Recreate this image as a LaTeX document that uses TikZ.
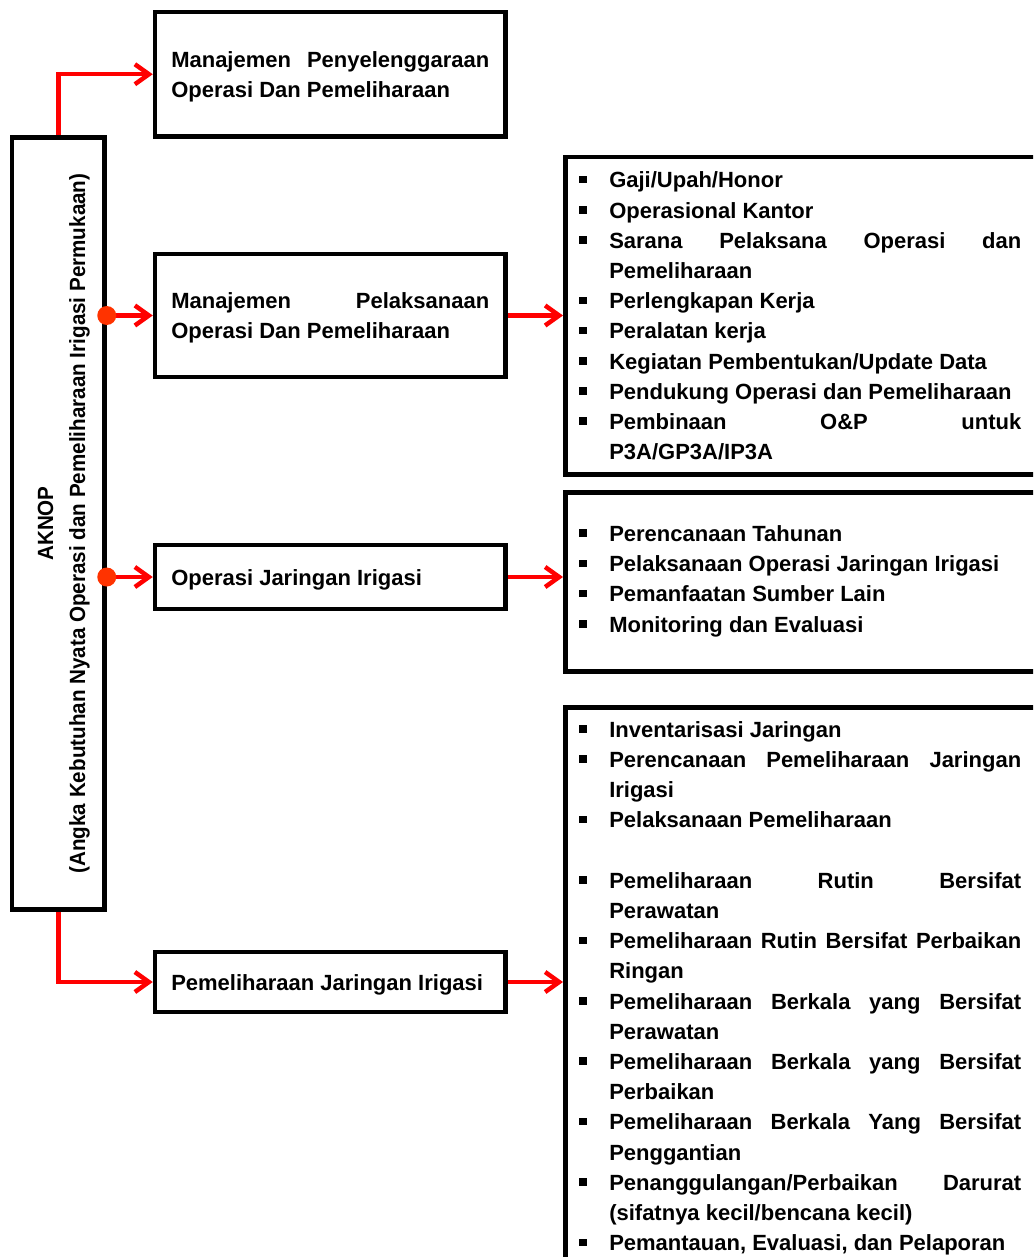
\documentclass[tikz,border=0pt]{standalone}
\usepackage{fontspec}
\setmainfont{Liberation Sans}
\usepackage{graphicx}
\usetikzlibrary{arrows.meta}
\definecolor{dotred}{RGB}{255,51,0}
\hyphenpenalty=10000
\exhyphenpenalty=10000
\tolerance=10000
\hbadness=10000
\newcommand{\mystrut}{\rule[-7pt]{0pt}{30pt}}
\newcommand{\bfnt}{\fontsize{22}{30.2}\selectfont\bfseries}
\newcommand{\itm}[1]{\hangindent=30pt\hangafter=1\noindent\mystrut\makebox[30pt][l]{\rule[4.5pt]{7.5pt}{7.5pt}}#1\mystrut\par}
\newcommand{\blankln}{\noindent\mystrut\par}
\begin{document}
\begin{tikzpicture}[x=1pt,y=-1pt,
  box/.style={draw=black, line width=4.5pt, rectangle, inner sep=0pt},
  lbox/.style={box, text width=318pt, inner xsep=16.25pt, inner ysep=0pt, align=justify, font=\bfnt},
  rbox/.style={box, text width=480pt, inner xsep=14pt, inner ysep=0pt, align=justify, font=\bfnt, anchor=north west},
  conn/.style={draw=red, line width=4.5pt, -{Straight Barb[length=14pt,width=20pt]}},
  dot/.style={fill=dotred}]
\useasboundingbox (0,0) rectangle (1033,1257);
\clip (0,0) rectangle (1033,1257);
\fill[white] (0,0) rectangle (1033,1257);

% left vertical box
\node[box, minimum width=92.5pt, minimum height=772pt] (ak) at (58.25,523.5) {};
\node[rotate=90, inner sep=0pt, font={\fontsize{22}{32}\selectfont\bfseries}] (akt) at (62.6,523.5)
  {\scalebox{0.937}[1]{\begin{tabular}{@{}c@{}}AKNOP\\(Angka Kebutuhan Nyata Operasi dan Pemeliharaan Irigasi Permukaan)\end{tabular}}};

% middle boxes
\node[lbox, minimum height=124.5pt] (b1) at (330.25,74.25)
  {\rightskip=6pt\relax\mystrut Manajemen Penyelenggaraan\linebreak Operasi Dan Pemeliharaan\mystrut};
\node[lbox, minimum height=123pt] (b2) at (330.25,315.5)
  {\rightskip=6pt\relax\mystrut Manajemen Pelaksanaan\linebreak Operasi Dan Pemeliharaan\mystrut};
\node[lbox, minimum height=64pt] (b3) at (330.25,577)
  {\rightskip=6pt\relax\mystrut Operasi Jaringan Irigasi\mystrut};
\node[lbox, minimum height=60pt] (b4) at (330.25,982)
  {\rightskip=6pt\relax\mystrut Pemeliharaan Jaringan Irigasi\mystrut};

% right boxes
\node[rbox, minimum height=317pt] (r1) at (563,155)
  {\rightskip=38pt\relax%
   \itm{Gaji/Upah/Honor}
   \itm{Operasional Kantor}
   \itm{Sarana Pelaksana Operasi dan\linebreak Pemeliharaan}
   \itm{Perlengkapan Kerja}
   \itm{Peralatan kerja}
   \itm{Kegiatan Pembentukan/Update Data}
   \itm{Pendukung Operasi dan Pemeliharaan}
   \itm{Pembinaan O\&P untuk\linebreak P3A/GP3A/IP3A}};
\node[rbox, minimum height=179pt] (r2) at (563,490)
  {\rightskip=38pt\relax%
   \itm{Perencanaan Tahunan}
   \itm{Pelaksanaan Operasi Jaringan Irigasi}
   \itm{Pemanfaatan Sumber Lain}
   \itm{Monitoring dan Evaluasi\rule[-13pt]{0pt}{1pt}}};
\node[rbox, minimum height=557.4pt] (r3) at (563,705)
  {\rightskip=38pt\relax%
   \itm{Inventarisasi Jaringan}
   \itm{Perencanaan Pemeliharaan Jaringan\linebreak Irigasi}
   \itm{Pelaksanaan Pemeliharaan}
   \blankln
   \itm{Pemeliharaan Rutin Bersifat\linebreak Perawatan}
   \itm{Pemeliharaan Rutin Bersifat Perbaikan\linebreak Ringan}
   \itm{Pemeliharaan Berkala yang Bersifat\linebreak Perawatan}
   \itm{Pemeliharaan Berkala yang Bersifat\linebreak Perbaikan}
   \itm{Pemeliharaan Berkala Yang Bersifat\linebreak Penggantian}
   \itm{Penanggulangan/Perbaikan Darurat\linebreak (sifatnya kecil/bencana kecil)}
   \itm{Pemantauan, Evaluasi, dan Pelaporan}};

% connectors
\draw[conn] (ak.north) |- (b1.west);
\draw[conn] (ak.south) |- (b4.west);
\coordinate (d2) at (ak.east |- b2.west);
\coordinate (d3) at (ak.east |- b3.west);
\draw[conn] (d2) -- (b2.west);
\draw[conn] (d3) -- (b3.west);
\fill[dot] (d2) circle (9.5pt);
\fill[dot] (d3) circle (9.5pt);
\draw[conn] (b2.east) -- (b2.east -| r1.west);
\draw[conn] (b3.east) -- (b3.east -| r2.west);
\draw[conn] (b4.east) -- (b4.east -| r3.west);
\end{tikzpicture}
\end{document}
